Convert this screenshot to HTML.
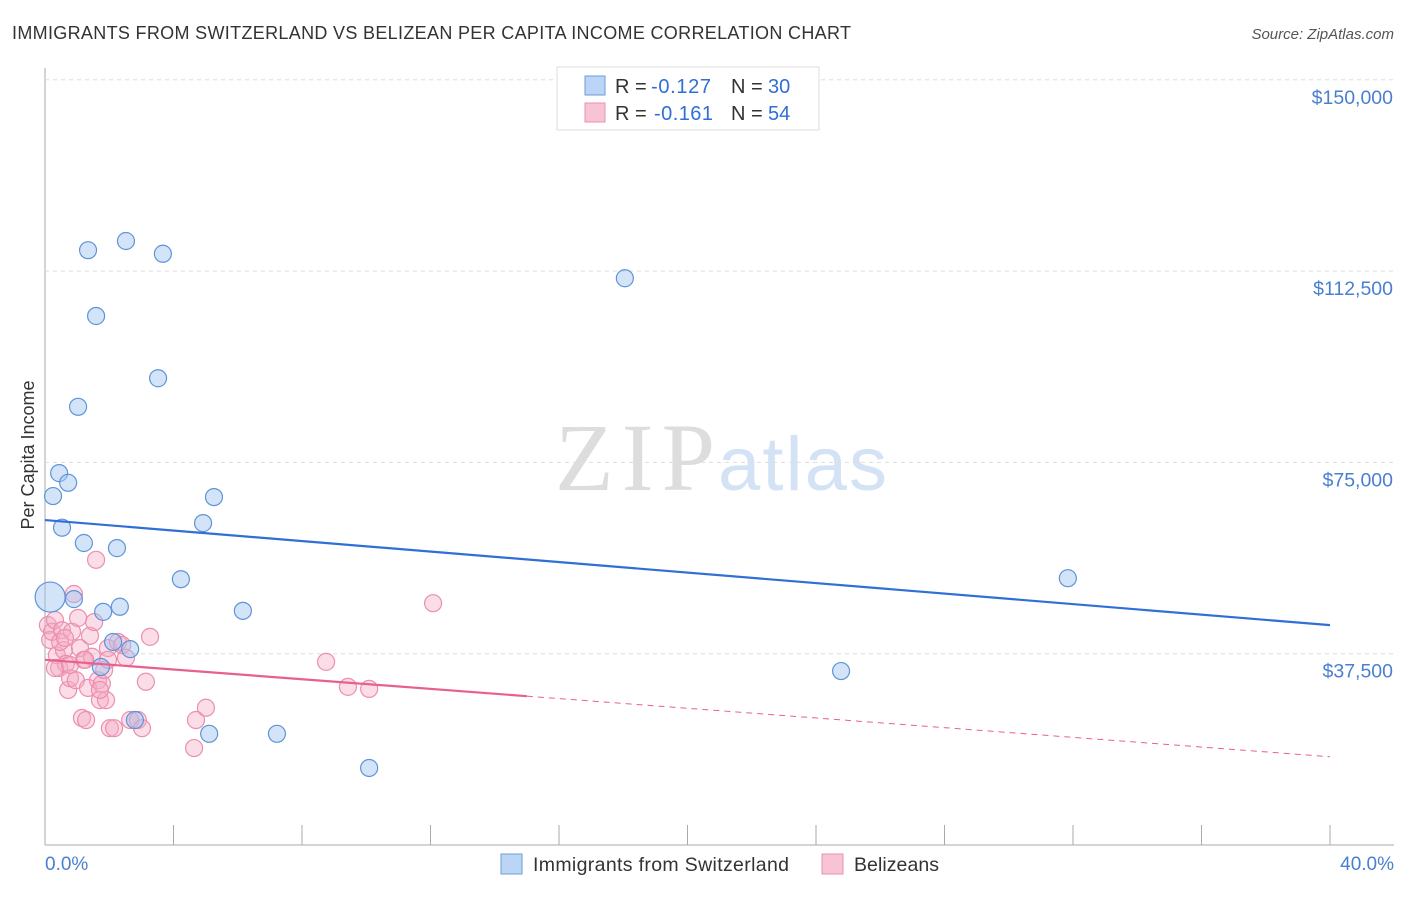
<!DOCTYPE html>
<html><head><meta charset="utf-8"><style>
body{margin:0;background:#fff;font-family:"Liberation Sans",sans-serif}
</style></head><body>
<svg id="c" width="1406" height="892" xmlns="http://www.w3.org/2000/svg">
<text x="12" y="39" font-size="18" fill="#333" textLength="839">IMMIGRANTS FROM SWITZERLAND VS BELIZEAN PER CAPITA INCOME CORRELATION CHART</text>
<text x="1394" y="39" font-size="15" fill="#555" font-style="italic" text-anchor="end">Source: ZipAtlas.com</text>
<text x="555" y="490" font-size="96" fill="#ddd" font-family="Liberation Serif" textLength="160">ZIP</text>
<text x="718" y="490" font-size="76" fill="#d4e2f5" textLength="169">atlas</text>
<text transform="translate(34,455) rotate(-90)" font-size="18" fill="#333" text-anchor="middle">Per Capita Income</text>
<g id="grid"></g><g id="pts"></g><g id="trend"></g>
<text x="45" y="870" font-size="19" fill="#4a7fd0">0.0%</text>
<text x="1394" y="870" font-size="19" fill="#4a7fd0" text-anchor="end">40.0%</text>
<g>
<rect x="557" y="67" width="262" height="63" fill="#fff" stroke="#ddd"/>
<rect x="585" y="76" width="20" height="19" fill="#bcd4f5" stroke="#6d9edc"/>
<rect x="585" y="103" width="20" height="19" fill="#f8c4d4" stroke="#e890b0"/>
<text x="615" y="93" font-size="20" fill="#333">R =</text>
<text x="651" y="93" font-size="20" fill="#2f6fd6" textLength="60">-0.127</text>
<text x="731" y="93" font-size="20" fill="#333">N =</text>
<text x="768" y="93" font-size="20" fill="#2f6fd6">30</text>
<text x="615" y="120" font-size="20" fill="#333">R =</text>
<text x="654" y="120" font-size="20" fill="#2f6fd6" textLength="59">-0.161</text>
<text x="731" y="120" font-size="20" fill="#333">N =</text>
<text x="768" y="120" font-size="20" fill="#2f6fd6">54</text>
</g>
<g>
<rect x="501" y="854" width="21" height="20" fill="#bcd4f5" stroke="#6d9edc"/>
<text x="533" y="871" font-size="19.5" fill="#333" textLength="256">Immigrants from Switzerland</text>
<rect x="822" y="854" width="21" height="20" fill="#f8c4d4" stroke="#e890b0"/>
<text x="854" y="871" font-size="19.5" fill="#333" textLength="85">Belizeans</text>
</g>
</svg>
<script>
const yTicks=[37500,75000,112500,150000];
const yTickLabels=["$37,500","$75,000","$112,500","$150,000"];
const blueX=[0.16,0.25,0.44,0.72,0.53,0.90,1.21,1.03,1.34,1.59,1.81,1.74,2.12,2.24,2.33,2.52,2.65,2.80,3.52,3.67,4.23,4.92,5.26,5.11,6.16,7.22,10.09,18.05,24.78,31.84];
const blueY=[48600,68400,72900,71000,62200,48200,59200,85900,116600,103700,45700,34900,39800,58200,46700,118400,38400,24500,91500,115900,52100,63100,68200,21800,45900,21800,15100,111100,34100,52300];
const pinkX=[0.09,0.16,0.22,0.31,0.37,0.44,0.53,0.59,0.65,0.72,0.78,0.84,0.90,0.96,1.03,1.09,1.15,1.21,1.28,1.34,1.40,1.46,1.53,1.59,1.65,1.71,1.77,1.84,1.90,1.96,2.02,2.15,2.27,2.40,2.52,2.65,2.89,3.02,3.14,3.27,4.64,4.70,5.01,8.75,9.43,10.09,12.08,0.31,0.47,0.78,1.25,1.71,1.96,0.62];
const pinkY=[43100,40200,41800,44100,37200,34700,42100,38200,35500,30400,32700,41800,49200,32300,44500,38600,24900,36300,24500,30800,41000,36900,43700,55900,32300,28400,31600,34300,28400,38600,22900,22900,39800,39200,36700,24500,24500,22900,32000,40800,19000,24500,26900,35900,31000,30600,47400,34700,39800,35300,36300,30400,36300,40600];
const blueTrend=[63700,43100];
const pinkTrend=[36300,17300];
const pinkSolidEnd=15;
const X=p=>45+p*32.125, Y=v=>845-v/37500*191.3;
const NS="http://www.w3.org/2000/svg";
function mk(t,a,par){const e=document.createElementNS(NS,t);for(const k in a)e.setAttribute(k,a[k]);document.getElementById(par).appendChild(e);return e;}
let g=mk('line',{x1:45,y1:68,x2:45,y2:845,stroke:'#aaa'},'grid');


g=mk('line',{x1:45,y1:845,x2:1394,y2:845,stroke:'#aaa'},'grid');


for(let i=0;i<=10;i++){const t=mk('line',{x1:X(i*4),y1:825,x2:X(i*4),y2:845,stroke:'#aaa'},'grid');

}
yTicks.forEach((v,i)=>{const l=mk('line',{x1:45,y1:Y(v),x2:1394,y2:Y(v),stroke:'#ddd','stroke-dasharray':'4,4'},'grid');


const t=mk('text',{x:1393,y:Y(v)+24,'font-size':19.5,fill:'#4a7fd0','text-anchor':'end'},'grid');t.textContent=yTickLabels[i];

});
pinkX.forEach((x,i)=>{const c=mk('circle',{cx:X(x),cy:Y(pinkY[i]),r:8.5,fill:'rgba(246,170,196,0.4)',stroke:'#eb8fb0','stroke-width':1.2},'pts');

});
blueX.forEach((x,i)=>{const c=mk('circle',{cx:X(x),cy:Y(blueY[i]),r:i==0?15:8.5,fill:'rgba(160,196,240,0.45)',stroke:'#5f94d8','stroke-width':1.2},'pts');

});
let l=mk('line',{x1:X(0),y1:Y(blueTrend[0]),x2:X(40),y2:Y(blueTrend[1]),stroke:'#2f6fd6','stroke-width':2.2},'trend');


const pm=pinkTrend[0]+(pinkTrend[1]-pinkTrend[0])*pinkSolidEnd/40;
l=mk('line',{x1:X(0),y1:Y(pinkTrend[0]),x2:X(pinkSolidEnd),y2:Y(pm),stroke:'#e8608e','stroke-width':2.2},'trend');


l=mk('line',{x1:X(pinkSolidEnd),y1:Y(pm),x2:X(40),y2:Y(pinkTrend[1]),stroke:'#e8608e','stroke-width':1,'stroke-dasharray':'6,5'},'trend');


</script>
</body></html>
